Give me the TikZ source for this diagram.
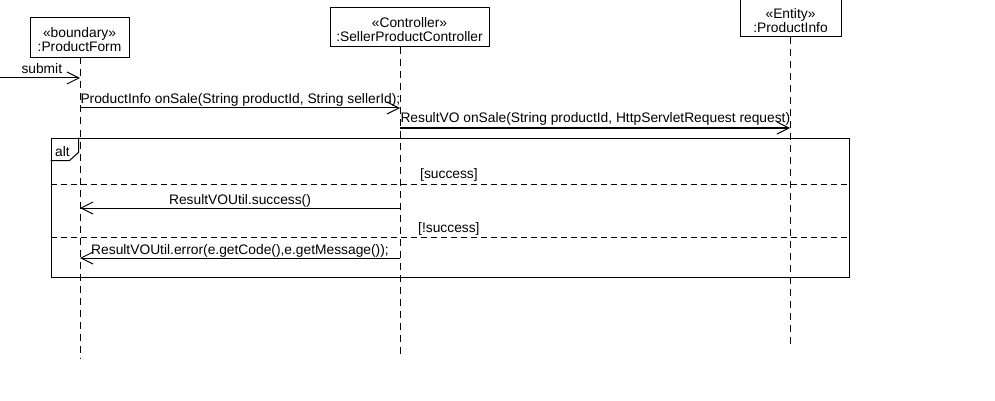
\documentclass[tikz,border=0pt]{standalone}
\usepackage{fontspec}
\setmainfont{Liberation Sans}
\usetikzlibrary{arrows.meta,calc}

\tikzset{
  lifebox/.style={draw, line width=1pt, inner sep=0pt},
  headtxt/.style={align=center, inner sep=0pt, text depth=0pt, anchor=south,
    execute at begin node={\setlength{\baselineskip}{14pt}}},
  lifeline/.style={line width=1pt, dash pattern=on 7pt off 5pt},
  msg/.style={line width=1pt, -{Straight Barb[length=12pt,width=12pt,line width=1pt]}},
  lbl/.style={inner sep=0pt, anchor=base west},
  guard/.style={line width=1pt, dash pattern=on 6pt off 4pt},
}

\begin{document}
\begin{tikzpicture}[x=1pt, y=-1pt, font=\fontsize{13.8}{14}\selectfont]
  %%%%% START %%%%%
  \useasboundingbox (0,0) rectangle (995,401);

  % heads
  \node[lifebox, minimum width=99pt, minimum height=39.5pt] (pf) at (79.5,37.75) {};
  \node[headtxt] (pfTxt) at ([yshift=6pt]pf.south) {«boundary»\\:ProductForm};
  \node[lifebox, minimum width=159pt, minimum height=39pt] (spc) at (409.5,27.5) {};
  \node[headtxt] (spcTxt) at ([yshift=6pt]spc.south) {«Controller»\\:SellerProductController};
  \node[lifebox, minimum width=101pt, minimum height=40pt] (pi) at (790.5,17) {};
  \node[headtxt] (piTxt) at ([yshift=5pt]pi.south) {«Entity»\\:ProductInfo};

  % lifelines
  \coordinate (pfTop) at (80,57.5);  \coordinate (pfEnd) at (80,358);
  \coordinate (spcTop) at (400,47);  \coordinate (spcEnd) at (400,358);
  \coordinate (piTop) at (790,37);   \coordinate (piEnd) at (790,345);
  \draw[lifeline] (pfTop) -- (pfEnd);
  \draw[lifeline] (spcTop) -- (spcEnd);
  \draw[lifeline] (piTop) -- (piEnd);

  % calls
  \coordinate (start) at (0,78);
  \draw[msg] (start) -- (start -| pfTop) node[pos=0, lbl, xshift=21pt, yshift=4pt] (submit) {submit};
  \draw[msg] (pfTop |- 0,108) -- (spcTop |- 0,108)
    node[pos=0, lbl, yshift=4pt] (onSale1) {ProductInfo onSale(String productId, String sellerId);};
  \draw[msg] (spcTop |- 0,128) -- (piTop |- 0,128)
    node[pos=0, lbl, yshift=5pt] (onSale2) {ResultVO onSale(String productId, HttpServletRequest request)};

  % alt frame
  \node[draw, line width=1pt, minimum width=798pt, minimum height=139pt, inner sep=0pt] (alt) at (450,207.5) {};
  \draw[line width=1pt] (alt.north west) ++(0,23) -- ++(19,0) -- ++(9,-8) -- ++(0,-15);
  \node[lbl] (altLbl) at (55,156) {alt};
  \draw[guard] (alt.west |- 0,184) -- (alt.east |- 0,184);
  \draw[guard] (alt.west |- 0,237) -- (alt.east |- 0,237);
  \node[lbl] (okGuard) at (420,178) {[success]};
  \node[lbl] (errGuard) at (418,232) {[!success]};

  % replies
  \draw[msg] (spcTop |- 0,208) -- (pfTop |- 0,208)
    node[midway, anchor=base, inner sep=0pt, yshift=4pt] (okMsg) {ResultVOUtil.success()};
  \draw[msg] (spcTop |- 0,258) -- (pfTop |- 0,258)
    node[midway, anchor=base, inner sep=0pt, yshift=4pt] (errMsg) {ResultVOUtil.error(e.getCode(),e.getMessage());};
  %%%%% END %%%%%
\end{tikzpicture}
\end{document}
